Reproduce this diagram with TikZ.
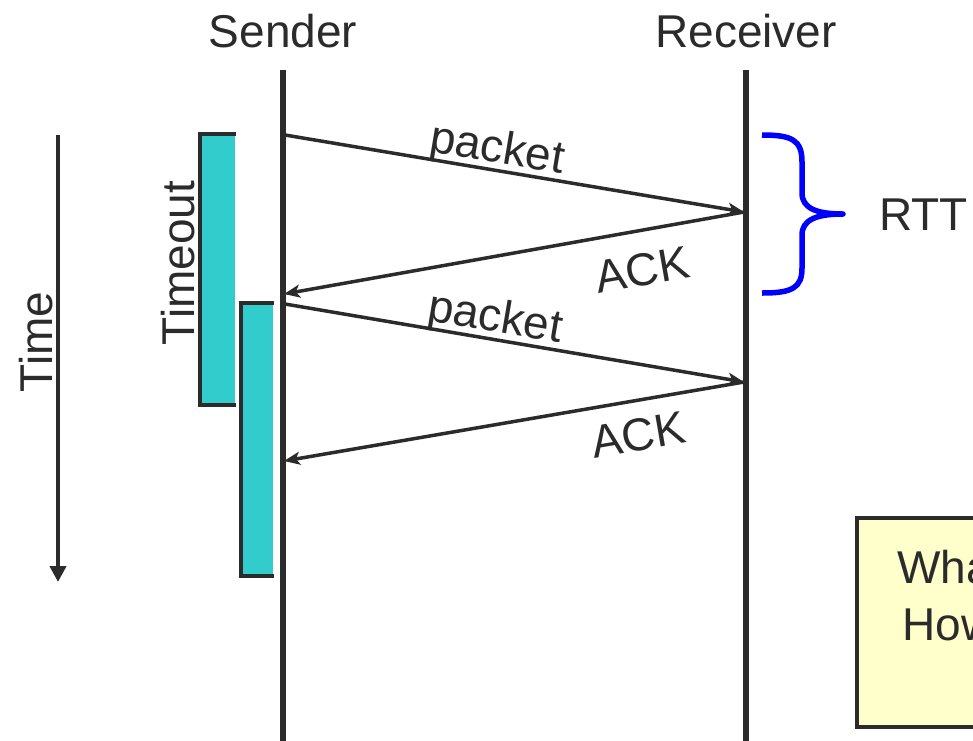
\documentclass[tikz,border=0pt]{standalone}
\usepackage{fontspec}
\setmainfont{Liberation Sans}
\usetikzlibrary{arrows.meta}
\definecolor{ink}{HTML}{2B2B2B}
\definecolor{tealfill}{HTML}{33CCCC}
\definecolor{notefill}{HTML}{FFFFCC}
\definecolor{bracecol}{HTML}{0000FF}
\begin{document}
\begin{tikzpicture}[x=1pt,y=-1pt,
  lbl/.style={font=\fontsize{46}{55}\selectfont, text=ink, inner sep=0pt},
  msg/.style={draw=ink, line width=3.5pt, -{Stealth[length=16pt,width=13pt,inset=4pt]}},
  life/.style={draw=ink, line width=5.5pt},
  tbox/.style={draw=ink, line width=3.5pt},
  tfill/.style={fill=tealfill}]
\useasboundingbox (0,0) rectangle (973,740);
\clip (0,0) rectangle (973,740);
% lifelines
\coordinate (s0) at (283,70);
\coordinate (s1) at (283,745);
\coordinate (r0) at (746,70);
\coordinate (r1) at (746,745);
\draw[life] (s0) -- (s1);
\draw[life] (r0) -- (r1);
\node[lbl, anchor=base] (sender) at (283,47) {Sender};
\node[lbl, anchor=base] (receiver) at (746,47) {Receiver};
% timeout boxes
\fill[tfill] (200,134) rectangle (235,405);
\draw[tbox] (236,134) -- (200,134) -- (200,405) -- (236,405);
\fill[tfill] (241,303) rectangle (273,576);
\draw[tbox] (274,303) -- (241,303) -- (241,576) -- (274,576);
\node[lbl, rotate=90] (timeout) at (178,263) {Timeout};
% time arrow
\coordinate (t0) at (58,135);
\coordinate (t1) at (58,582);
\draw[draw=ink, line width=4pt, -{Triangle[length=16pt,width=16pt]}] (t0) -- (t1);
\node[lbl, rotate=90] (time) at (36,342) {Time};
% message endpoints
\coordinate (a0) at (285,135);
\coordinate (a1) at (744,212);
\coordinate (a2) at (284,294);
\coordinate (b0) at (285,304);
\coordinate (b1) at (744,382);
\coordinate (b2) at (284,461);
\draw[msg] (a0) -- (a1);
\draw[msg] (a1) -- (a2);
\draw[msg] (b0) -- (b1);
\draw[msg] (b1) -- (b2);
\node[lbl, rotate=-9.6] (p1) at (497,151) {packet};
\node[lbl, rotate=10] (k1) at (642,270) {ACK};
\node[lbl, rotate=-9.7] (p2) at (495,320) {packet};
\node[lbl, rotate=9.8] (k2) at (638,435) {ACK};
% RTT brace
\draw[bracecol, line width=5.5pt, line join=round]
  (762,135) .. controls (792,135) and (802,140) .. (802,162)
  -- (802,193) .. controls (802,208) and (816,214) .. (843,214)
  .. controls (816,214) and (802,220) .. (802,235)
  -- (802,268) .. controls (802,288) and (792,293) .. (762,293);
\node[lbl, anchor=base west] (rtt) at (879,230) {RTT};
% note box
\draw[fill=notefill, draw=ink, line width=3.5pt] (857,518) rectangle (1000,727);
\node[lbl, anchor=base west] (q1) at (897,583) {What};
\node[lbl, anchor=base west] (q2) at (902,640) {How};
\end{tikzpicture}
\end{document}
